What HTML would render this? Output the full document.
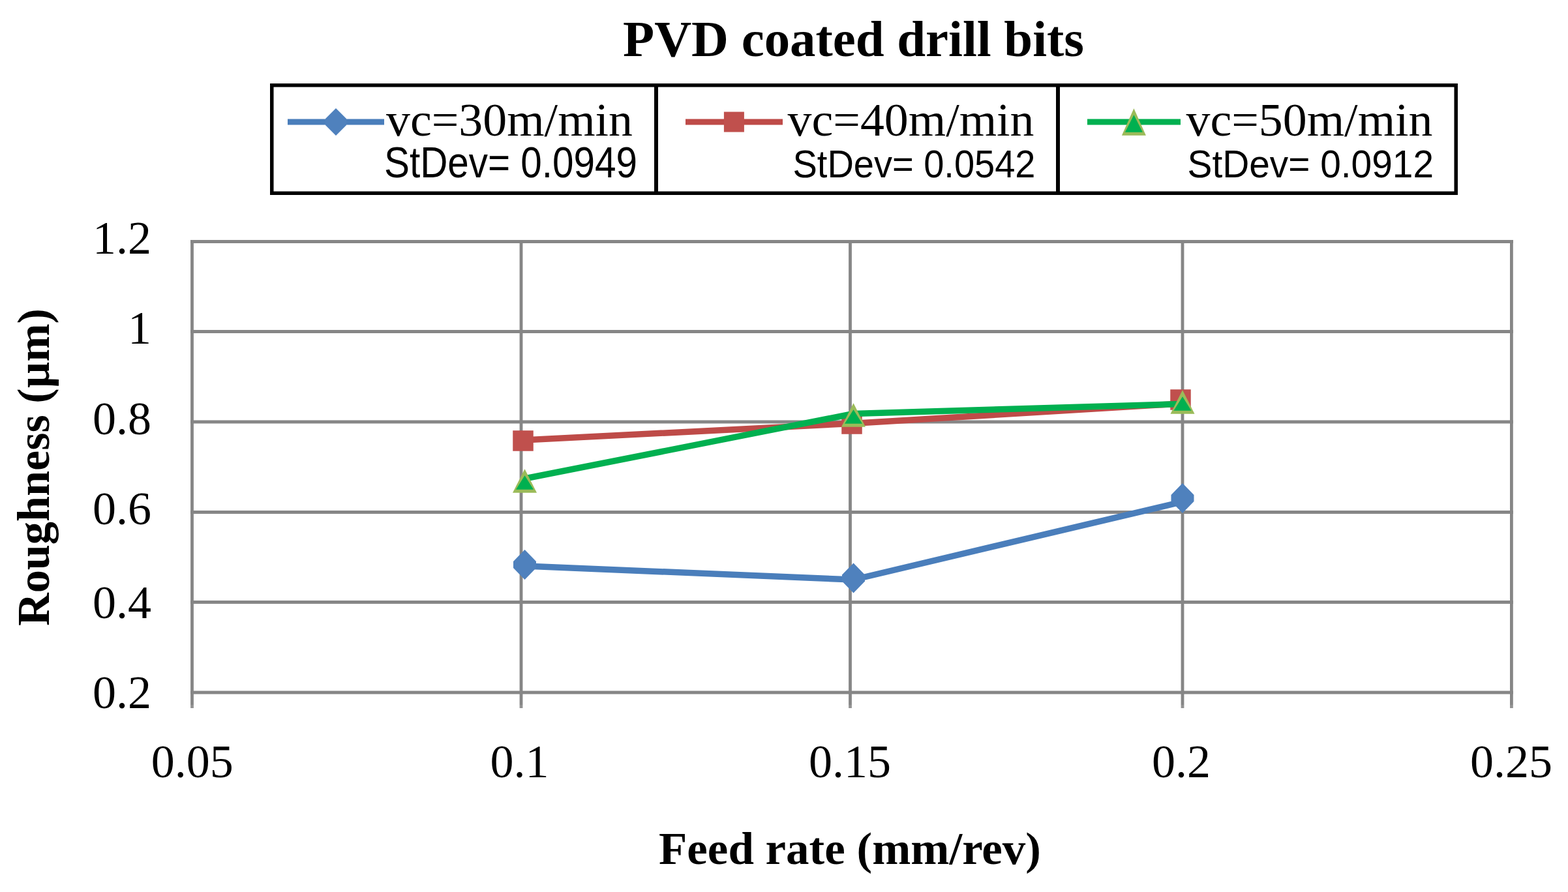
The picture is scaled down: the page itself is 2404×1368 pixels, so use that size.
<!DOCTYPE html>
<html><head><meta charset="utf-8"><title>PVD coated drill bits</title>
<style>html,body{margin:0;padding:0;background:#fff;overflow:hidden}svg{display:block}</style>
</head><body>
<svg width="2404" height="1368" viewBox="0 0 2404 1368">
<rect width="2404" height="1368" fill="#fff"/>
<line x1="292" y1="370.5" x2="2320" y2="370.5" stroke="#868686" stroke-width="4.8"/>
<line x1="292" y1="508.5" x2="2320" y2="508.5" stroke="#868686" stroke-width="4.8"/>
<line x1="292" y1="647" x2="2320" y2="647" stroke="#868686" stroke-width="4.8"/>
<line x1="292" y1="785.5" x2="2320" y2="785.5" stroke="#868686" stroke-width="4.8"/>
<line x1="292" y1="923.5" x2="2320" y2="923.5" stroke="#868686" stroke-width="4.8"/>
<line x1="292" y1="1062" x2="2320" y2="1062" stroke="#868686" stroke-width="4.8"/>
<line x1="294.5" y1="368" x2="294.5" y2="1081" stroke="#868686" stroke-width="4.8"/>
<line x1="294.5" y1="1081" x2="294.5" y2="1086" stroke="#939393" stroke-width="4.8"/>
<line x1="799" y1="368" x2="799" y2="1081" stroke="#868686" stroke-width="4.8"/>
<line x1="799" y1="1081" x2="799" y2="1086" stroke="#939393" stroke-width="4.8"/>
<line x1="1303.5" y1="368" x2="1303.5" y2="1081" stroke="#868686" stroke-width="4.8"/>
<line x1="1303.5" y1="1081" x2="1303.5" y2="1086" stroke="#939393" stroke-width="4.8"/>
<line x1="1813" y1="368" x2="1813" y2="1081" stroke="#868686" stroke-width="4.8"/>
<line x1="1813" y1="1081" x2="1813" y2="1086" stroke="#939393" stroke-width="4.8"/>
<line x1="2317.4" y1="368" x2="2317.4" y2="1081" stroke="#868686" stroke-width="4.8"/>
<line x1="2317.4" y1="1081" x2="2317.4" y2="1086" stroke="#939393" stroke-width="4.8"/>
<polyline points="804.5,868 1308.5,889 1813,769.5" fill="none" stroke="#4A7EBB" stroke-width="9.5" stroke-linejoin="round"/>
<polyline points="802,675 1306,649.5 1810,619" fill="none" stroke="#BE4B48" stroke-width="9.5" stroke-linejoin="round"/>
<polygon points="804.5,843 822.0,861 822.0,871 804.5,889 787.0,871 787.0,861" fill="#4F81BD"/>
<polygon points="1308.5,863.4 1326.0,881.4 1326.0,891.4 1308.5,909.4 1291.0,891.4 1291.0,881.4" fill="#4F81BD"/>
<polygon points="1813,741 1830.5,759 1830.5,769 1813,787 1795.5,769 1795.5,759" fill="#4F81BD"/>
<rect x="786.25" y="660.25" width="31.5" height="31.5" fill="#C0504D"/>
<rect x="1290.25" y="634.25" width="31.5" height="31.5" fill="#C0504D"/>
<rect x="1794.25" y="597.25" width="31.5" height="31.5" fill="#C0504D"/>
<polyline points="804.5,734 1308.5,634.5 1813,619.5" fill="none" stroke="#00B050" stroke-width="9.5" stroke-linejoin="round"/>
<polygon points="804.5,719.25 823.0,755.75 786.0,755.75" fill="#9BBB59"/><polygon points="804.5,729.25 818.0,750.75 791.0,750.75" fill="#00B050"/>
<polygon points="1308.5,618.25 1327.0,654.75 1290.0,654.75" fill="#9BBB59"/><polygon points="1308.5,628.25 1322.0,649.75 1295.0,649.75" fill="#00B050"/>
<polygon points="1813,598.25 1831.5,634.75 1794.5,634.75" fill="#9BBB59"/><polygon points="1813,608.25 1826.5,629.75 1799.5,629.75" fill="#00B050"/>
<rect x="416.75" y="130.75" width="1815.5" height="165.5" fill="none" stroke="#000" stroke-width="5.5"/>
<line x1="1006" y1="130" x2="1006" y2="297" stroke="#000" stroke-width="6"/>
<line x1="1622" y1="130" x2="1622" y2="297" stroke="#000" stroke-width="6"/>
<line x1="441" y1="187" x2="589" y2="187" stroke="#4A7EBB" stroke-width="9"/>
<polygon points="515,166 531,182 531,192 515,208 499,192 499,182" fill="#4F81BD"/>
<line x1="1051" y1="187" x2="1200" y2="187" stroke="#BE4B48" stroke-width="9"/>
<rect x="1109.9" y="171.5" width="31" height="31" fill="#C0504D"/>
<line x1="1667" y1="187" x2="1810" y2="187" stroke="#00B050" stroke-width="9"/>
<polygon points="1738.4,166.25 1756.9,207.75 1719.9,207.75" fill="#9BBB59"/><polygon points="1738.4,176.25 1751.9,202.75 1724.9,202.75" fill="#00B050"/>
<text x="592" y="207.8" font-family="Liberation Serif, serif" font-size="72" textLength="378" lengthAdjust="spacingAndGlyphs">vc=30m/min</text>
<text x="589" y="271.8" font-family="Liberation Sans, sans-serif" font-size="67" textLength="388" lengthAdjust="spacingAndGlyphs">StDev= 0.0949</text>
<text x="1207.6" y="207.8" font-family="Liberation Serif, serif" font-size="72" textLength="377.9" lengthAdjust="spacingAndGlyphs">vc=40m/min</text>
<text x="1215.5" y="271.8" font-family="Liberation Sans, sans-serif" font-size="60" textLength="372.0" lengthAdjust="spacingAndGlyphs">StDev= 0.0542</text>
<text x="1818.5" y="207.8" font-family="Liberation Serif, serif" font-size="72" textLength="378.0" lengthAdjust="spacingAndGlyphs">vc=50m/min</text>
<text x="1820.5" y="271.8" font-family="Liberation Sans, sans-serif" font-size="60" textLength="377.5" lengthAdjust="spacingAndGlyphs">StDev= 0.0912</text>
<text x="955" y="86" font-family="Liberation Serif, serif" font-size="78" font-weight="bold" textLength="707" lengthAdjust="spacingAndGlyphs">PVD coated drill bits</text>
<text x="232" y="389" font-family="Liberation Serif, serif" font-size="72" text-anchor="end">1.2</text>
<text x="232" y="527" font-family="Liberation Serif, serif" font-size="72" text-anchor="end">1</text>
<text x="232" y="666" font-family="Liberation Serif, serif" font-size="72" text-anchor="end">0.8</text>
<text x="232" y="804" font-family="Liberation Serif, serif" font-size="72" text-anchor="end">0.6</text>
<text x="232" y="948" font-family="Liberation Serif, serif" font-size="72" text-anchor="end">0.4</text>
<text x="232" y="1086" font-family="Liberation Serif, serif" font-size="72" text-anchor="end">0.2</text>
<text x="294.8" y="1191.8" font-family="Liberation Serif, serif" font-size="72" text-anchor="middle">0.05</text>
<text x="796.6" y="1191.8" font-family="Liberation Serif, serif" font-size="72" text-anchor="middle">0.1</text>
<text x="1303" y="1191.8" font-family="Liberation Serif, serif" font-size="72" text-anchor="middle">0.15</text>
<text x="1811" y="1191.8" font-family="Liberation Serif, serif" font-size="72" text-anchor="middle">0.2</text>
<text x="2317" y="1191.8" font-family="Liberation Serif, serif" font-size="72" text-anchor="middle">0.25</text>
<text x="1010" y="1324.7" font-family="Liberation Serif, serif" font-size="70" font-weight="bold" textLength="586" lengthAdjust="spacingAndGlyphs">Feed rate (mm/rev)</text>
<g transform="translate(75,960) rotate(-90)"><text x="0" y="0" font-family="Liberation Serif, serif" font-size="70" font-weight="bold" textLength="487" lengthAdjust="spacingAndGlyphs">Roughness (µm)</text></g>
</svg>
</body></html>
